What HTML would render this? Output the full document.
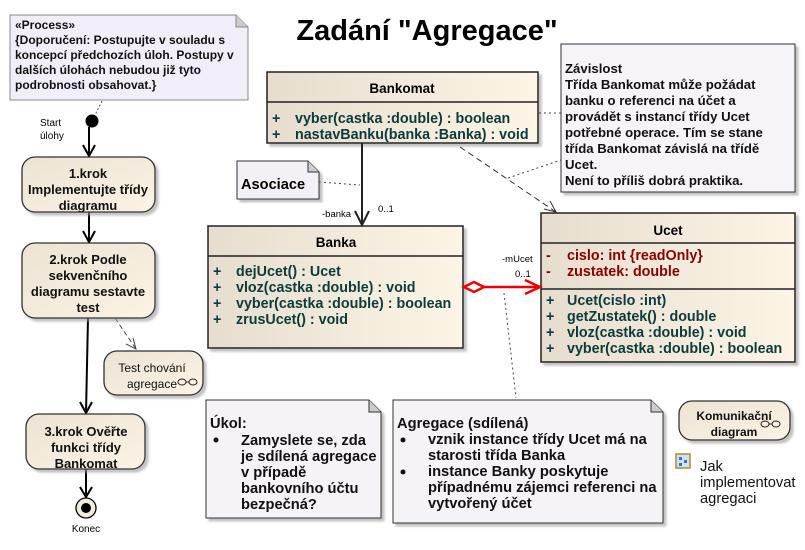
<!DOCTYPE html>
<html><head><meta charset="utf-8"><style>
body{margin:0;background:#fff;}
svg{display:block;font-family:"Liberation Sans",Arial,sans-serif;}
.b{font-weight:bold;}
</style></head><body>
<svg width="805" height="550" viewBox="0 0 805 550" xmlns="http://www.w3.org/2000/svg">
<defs>
<linearGradient id="g" x1="0" y1="0" x2="1" y2="0"><stop offset="0" stop-color="#e6ddcf"/><stop offset="1" stop-color="#fcf5e6"/></linearGradient>
<linearGradient id="gv" x1="0" y1="0" x2="1" y2="1"><stop offset="0" stop-color="#ece3d3"/><stop offset="1" stop-color="#fbf3e4"/></linearGradient>
<filter id="sh"><feDropShadow dx="3" dy="3" stdDeviation="1" flood-color="#999" flood-opacity="0.6"/></filter>
</defs>

<text x="427" y="40" text-anchor="middle" class="b" font-size="29">Zadání "Agregace"</text>

<path d="M10,15 H236 L248,27 V100 H10 Z" fill="#f1eef9" stroke="#888" stroke-width="1"/>
<path d="M236,15 V27 H248" fill="#ccc" stroke="#888"/>
<g class="b" font-size="12" fill="#111">
<text x="15" y="29">«Process»</text>
<text x="15" y="44">{Doporučení: Postupujte v souladu s</text>
<text x="15" y="59">koncepcí předchozích úloh. Postupy v</text>
<text x="15" y="74">dalších úlohách nebudou již tyto</text>
<text x="15" y="89">podrobnosti obsahovat.}</text>
</g>
<line x1="102" y1="101" x2="94" y2="117" stroke="#555" stroke-dasharray="2,2"/>

<circle cx="92" cy="121" r="6.5" fill="#000"/>
<text x="40" y="126" font-size="10">Start</text>
<text x="40" y="139" font-size="10">úlohy</text>
<g stroke="#000" stroke-width="2" fill="none">
<line x1="89" y1="127" x2="89" y2="156"/><path d="M83,145 L89,156 L95,145"/>
<line x1="89" y1="212" x2="89" y2="242"/><path d="M83,231 L89,242 L95,231"/>
<line x1="88" y1="318" x2="86" y2="413"/><path d="M80,402 L86,413 L92,402"/>
<line x1="86" y1="469" x2="86" y2="497"/><path d="M80,487 L86,497 L92,487"/>
</g>
<g stroke="#444" fill="none"><line x1="115" y1="318" x2="136" y2="349" stroke-dasharray="5,3"/><path d="M126,344 L136,349 L133,338"/></g>

<g filter="url(#sh)" stroke="#333" stroke-width="1.3" fill="url(#gv)">
<rect x="22" y="157" width="133" height="55" rx="13"/>
<rect x="22" y="243" width="133" height="75" rx="13"/>
<rect x="104" y="351" width="99" height="44" rx="13"/>
<rect x="26" y="414" width="119" height="55" rx="13"/>
<rect x="679" y="401" width="111" height="39" rx="13"/>
</g>
<g class="b" font-size="13" text-anchor="middle" fill="#111">
<text x="88" y="178">1.krok</text><text x="88" y="194">Implementujte třídy</text><text x="88" y="210">diagramu</text>
<text x="88" y="264">2.krok Podle</text><text x="88" y="280">sekvenčního</text><text x="88" y="296">diagramu sestavte</text><text x="88" y="312">test</text>
<text x="86" y="436">3.krok Ověřte</text><text x="86" y="452">funkci třídy</text><text x="86" y="468">Bankomat</text>
</g>
<g font-size="12" text-anchor="middle" fill="#111"><text x="152" y="372">Test chování</text><text x="152" y="388">agregace</text>
<text x="734" y="420" class="b">Komunikační</text><text x="734" y="436" class="b">diagram</text></g>
<g fill="none" stroke="#222" stroke-width="1"><ellipse cx="182" cy="382" rx="4" ry="3"/><ellipse cx="193" cy="382" rx="4" ry="3"/><line x1="186" y1="382" x2="189" y2="382"/>
<ellipse cx="765" cy="424" rx="4" ry="3"/><ellipse cx="776" cy="424" rx="4" ry="3"/><line x1="769" y1="424" x2="772" y2="424"/></g>

<circle cx="86" cy="508" r="10" fill="#f2ece0" stroke="#000" stroke-width="1.3"/>
<circle cx="86" cy="508" r="5" fill="#000"/>
<text x="86" y="532" font-size="10" text-anchor="middle">Konec</text>

<g filter="url(#sh)"><rect x="267" y="72" width="271" height="71" fill="url(#g)" stroke="#222" stroke-width="1.5"/></g>
<line x1="267" y1="102" x2="538" y2="102" stroke="#222" stroke-width="1.5"/>
<text x="402" y="93" class="b" font-size="13.5" text-anchor="middle">Bankomat</text>
<g class="b" font-size="14.3" fill="#0b3b3b">
<text x="272" y="123">+</text><text x="295" y="123">vyber(castka :double) : boolean</text>
<text x="272" y="139">+</text><text x="295" y="139">nastavBanku(banka :Banka) : void</text>
</g>

<g filter="url(#sh)"><rect x="208" y="226" width="255" height="122" fill="url(#g)" stroke="#222" stroke-width="1.5"/></g>
<line x1="208" y1="256" x2="463" y2="256" stroke="#222" stroke-width="1.5"/>
<text x="336" y="247" class="b" font-size="13.5" text-anchor="middle">Banka</text>
<g class="b" font-size="14.3" fill="#0b3b3b">
<text x="213" y="276">+</text><text x="236" y="276">dejUcet() : Ucet</text>
<text x="213" y="292">+</text><text x="236" y="292">vloz(castka :double) : void</text>
<text x="213" y="308">+</text><text x="236" y="308">vyber(castka :double) : boolean</text>
<text x="213" y="324">+</text><text x="236" y="324">zrusUcet() : void</text>
</g>

<g filter="url(#sh)"><rect x="541" y="213" width="254" height="149" fill="url(#g)" stroke="#222" stroke-width="1.5"/></g>
<line x1="541" y1="243" x2="795" y2="243" stroke="#222" stroke-width="1.5"/>
<line x1="541" y1="289" x2="795" y2="289" stroke="#222" stroke-width="1.5"/>
<text x="668" y="235" class="b" font-size="13.5" text-anchor="middle">Ucet</text>
<g class="b" font-size="14.3" fill="#8b0000">
<text x="546" y="260">-</text><text x="567" y="260">cislo:  int {readOnly}</text>
<text x="546" y="276">-</text><text x="567" y="276">zustatek:  double</text>
</g>
<g class="b" font-size="14.3" fill="#0b3b3b">
<text x="546" y="305">+</text><text x="567" y="305">Ucet(cislo :int)</text>
<text x="546" y="321">+</text><text x="567" y="321">getZustatek() : double</text>
<text x="546" y="337">+</text><text x="567" y="337">vloz(castka :double) : void</text>
<text x="546" y="353">+</text><text x="567" y="353">vyber(castka :double) : boolean</text>
</g>

<g stroke="#222" stroke-width="2" fill="none"><line x1="362" y1="143" x2="362" y2="225"/><path d="M355,211 L362,225 L369,211"/></g>
<text x="322" y="217" font-size="9.5">-banka</text>
<text x="378" y="212" font-size="9.5">0..1</text>

<g stroke="#333" stroke-width="1" fill="none"><line x1="460" y1="147" x2="556" y2="212" stroke-dasharray="6,4"/><path d="M544,209 L556,212 L550,201"/></g>

<g stroke="#e00" stroke-width="2.5" fill="none">
<path d="M464,287 L474,282 L484,287 L474,292 Z" fill="#fff"/>
<line x1="484" y1="287" x2="540" y2="287"/>
<path d="M525,280 L540,287 L525,294"/>
</g>
<text x="502" y="262" font-size="9.5">-mUcet</text>
<text x="515" y="277" font-size="9.5">0..1</text>

<g stroke="#444" stroke-dasharray="2,3" fill="none">
<line x1="319" y1="182" x2="360" y2="185"/>
<line x1="539" y1="113" x2="561" y2="113"/>
<line x1="508" y1="178" x2="561" y2="160"/>
<line x1="504" y1="293" x2="516" y2="398"/>
</g>

<path d="M237,161 H308 L319,172 V199 H237 Z" fill="#f3f0f7" stroke="#333" filter="url(#sh)"/>
<path d="M308,161 V172 H319" fill="#ccc" stroke="#333"/>
<text x="241" y="189" class="b" font-size="14.6">Asociace</text>

<rect x="561" y="44" width="234" height="148" fill="#f7f4f9" stroke="#333" filter="url(#sh)"/>
<g class="b" font-size="13.2" fill="#111">
<text x="565" y="73">Závislost</text>
<text x="565" y="89">Třída Bankomat může požádat</text>
<text x="565" y="105">banku o referenci na účet a</text>
<text x="565" y="121">provádět s instancí třídy Ucet</text>
<text x="565" y="137">potřebné operace. Tím se stane</text>
<text x="565" y="153">třída Bankomat závislá na třídě</text>
<text x="565" y="169">Ucet.</text>
<text x="565" y="185">Není to příliš dobrá praktika.</text>
</g>

<path d="M206,400 H369 L381,412 V518 H206 Z" fill="#f5f2f8" stroke="#333" filter="url(#sh)"/>
<path d="M369,400 V412 H381" fill="#ccc" stroke="#333"/>
<g class="b" font-size="14.7" fill="#111">
<text x="210" y="428">Úkol:</text>
<circle cx="216" cy="440" r="2.5"/>
<text x="241" y="445">Zamyslete se, zda</text>
<text x="241" y="461">je sdílená agregace</text>
<text x="241" y="477">v případě</text>
<text x="241" y="493">bankovního účtu</text>
<text x="241" y="509">bezpečná?</text>
</g>

<path d="M393,400 H651 L663,412 V523 H393 Z" fill="#f5f2f8" stroke="#333" filter="url(#sh)"/>
<path d="M651,400 V412 H663" fill="#ccc" stroke="#333"/>
<g class="b" font-size="14.7" fill="#111">
<text x="397" y="428">Agregace (sdílená)</text>
<circle cx="403" cy="440" r="2.5"/>
<text x="428" y="444">vznik instance třídy Ucet má na</text>
<text x="428" y="460">starosti třída Banka</text>
<circle cx="403" cy="472" r="2.5"/>
<text x="428" y="476">instance Banky poskytuje</text>
<text x="428" y="492">případnému zájemci referenci na</text>
<text x="428" y="508">vytvořený účet</text>
</g>

<rect x="676" y="454" width="14" height="14" fill="#cfe0f7" stroke="#b08a30" stroke-width="1.5"/>
<g fill="#3a6fd0"><rect x="679" y="457" width="3" height="3"/><rect x="684" y="460" width="3" height="3"/><rect x="679" y="463" width="3" height="3"/></g>
<g font-size="14.7" fill="#111">
<text x="700" y="471">Jak</text>
<text x="700" y="487">implementovat</text>
<text x="700" y="503">agregaci</text>
</g>
</svg>
</body></html>
